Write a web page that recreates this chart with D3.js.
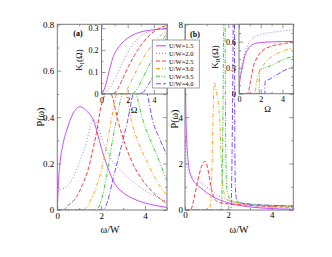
<!DOCTYPE html>
<html><head><meta charset="utf-8">
<script src="https://cdn.jsdelivr.net/npm/d3@7/dist/d3.min.js"></script>
<style>body{margin:0;background:#fff}svg{display:block}</style>
</head><body><svg id="c" width="332" height="257"></svg>
<script>
// ---------- data ----------
const uLabels = ["U/W=1.5","U/W=2.0","U/W=2.5","U/W=3.0","U/W=3.5","U/W=4.0"];
const seriesColors = ["#c44cff","#a57fd6","#ff3b3b","#ffa31a","#3ccc3c","#7a4dff"];
const seriesDash = ["", "1,2", "4,2", "4,2,1,2", "4,1.5,1,1.5,1,1.5", "5,2,5,2,1,2"];

// panel (a) main: P(omega) vs omega/W
const pa15 = [[0,0],[0.03,0.07],[0.06,0.13],[0.12,0.2],[0.25,0.28],[0.43,0.344],[0.72,0.416],[1.03,0.445],[1.3,0.43],[1.64,0.387],[2.08,0.244],[2.35,0.17],[2.61,0.115],[3.0,0.075],[3.5,0.047],[4.0,0.03],[4.5,0.019],[5.0,0.011]];
const pa20 = [[0,0],[0.02,0.07],[0.1,0.085],[0.43,0.1],[0.88,0.172],[1.1,0.23],[1.33,0.29],[1.5,0.36],[1.65,0.39],[1.85,0.36],[2.1,0.29],[2.39,0.229],[2.9,0.17],[3.44,0.122],[4.34,0.065],[5.0,0.036]];
const pa25 = [[0,0],[0.27,0],[0.5,0.02],[0.88,0.057],[1.15,0.11],[1.4,0.172],[1.6,0.25],[1.78,0.33],[2.0,0.45],[2.16,0.495],[2.35,0.52],[2.5,0.49],[2.76,0.387],[3.1,0.28],[3.44,0.2],[3.8,0.14],[4.19,0.093],[4.6,0.055],[5.0,0.028]];
const pa30 = [[0,0],[1.18,0],[1.5,0.04],[1.93,0.143],[2.24,0.272],[2.46,0.387],[2.7,0.5],[2.95,0.55],[3.15,0.5],[3.37,0.387],[3.7,0.29],[4.05,0.215],[4.5,0.13],[5.0,0.062]];
const pa35 = [[0,0],[1.78,0],[2.0,0.04],[2.24,0.143],[2.46,0.27],[2.69,0.387],[2.95,0.5],[3.3,0.57],[3.6,0.5],[3.9,0.387],[4.2,0.31],[4.5,0.244],[5.0,0.125]];
const pa40 = [[0,0],[2.08,0],[2.3,0.04],[2.53,0.13],[2.99,0.3],[3.21,0.387],[3.45,0.5],[3.8,0.58],[4.1,0.5],[4.34,0.387],[4.65,0.31],[5.0,0.235]];

// inset (a): K_I(Omega)
const ka15 = [[0,0],[0.2,0.02],[0.4,0.06],[0.65,0.12],[0.9,0.17],[1.2,0.205],[1.5,0.228],[2,0.255],[2.5,0.272],[3,0.283],[4,0.293],[5,0.298]];
const ka20 = [[0,0],[0.3,0.005],[0.6,0.025],[1.0,0.065],[1.5,0.13],[1.9,0.18],[2.4,0.225],[2.9,0.26],[3.5,0.282],[4.5,0.3],[5,0.305]];
const ka25 = [[0,0],[0.8,0],[1.0,0.005],[1.3,0.03],[1.7,0.08],[2.05,0.125],[2.5,0.175],[2.94,0.216],[3.5,0.258],[4,0.285],[4.5,0.302],[5,0.315]];
const ka30 = [[0,0],[1.6,0],[1.8,0.008],[2.2,0.05],[2.69,0.11],[3.2,0.165],[3.7,0.21],[4.2,0.248],[4.6,0.272],[5,0.29]];
const ka35 = [[0,0],[2.3,0],[2.56,0.01],[3.0,0.055],[3.45,0.11],[3.9,0.16],[4.4,0.215],[4.7,0.25],[5,0.277]];
const ka40 = [[0,0],[3.0,0],[3.2,0.008],[3.6,0.045],[3.95,0.08],[4.4,0.13],[5,0.19]];

// panel (b) main: P(omega) vs omega/W
const pb15 = [[0.005,9],[0.02,6],[0.04,4.2],[0.07,3.2],[0.1,2.6],[0.15,2.05],[0.23,1.6],[0.35,1.32],[0.54,1.1],[0.69,0.98],[1.0,0.75],[1.3,0.57],[1.6,0.44],[2.07,0.29],[2.5,0.2],[2.84,0.15],[3.5,0.09],[4.37,0.045],[5,0.03]];
const pb20 = [[0,0],[0.005,3.2],[0.04,2.2],[0.08,1.9],[0.2,1.6],[0.54,1.3],[1.0,1.0],[1.3,0.78],[1.62,0.57],[2.0,0.41],[2.39,0.3],[3.0,0.19],[3.62,0.13],[4.3,0.095],[5,0.075]];
const pb25 = [[0,0],[0.2,0],[0.3,0.08],[0.46,0.7],[0.6,1.3],[0.75,1.85],[0.93,2.1],[1.05,1.8],[1.16,1.2],[1.31,0.6],[1.5,0.35],[1.8,0.28],[2.2,0.25],[3,0.2],[4,0.15],[5,0.12]];
const pb30 = [[0,0],[1.12,0],[1.2,0.6],[1.25,2.0],[1.3,4.2],[1.35,5.5],[1.45,5.1],[1.55,4.5],[1.62,3.6],[1.67,2.2],[1.72,1.2],[1.85,0.6],[2.0,0.42],[2.5,0.3],[3,0.24],[4,0.18],[5,0.15]];
const pb35 = [[0,0],[1.68,0],[1.72,1.5],[1.76,5],[1.8,9],[1.84,9],[1.87,4],[1.9,1.5],[1.95,0.8],[2.1,0.45],[2.5,0.33],[3,0.26],[4,0.2],[5,0.17]];
const pb40 = [[0,0],[2.12,0],[2.16,1.5],[2.2,5],[2.24,9],[2.28,9],[2.3,3],[2.33,0.9],[2.4,0.4],[2.6,0.3],[3,0.25],[4,0.2],[5,0.18]];

// inset (b): K_R(Omega)
const kb15 = [[0,0],[0.02,0.08],[0.1,0.17],[0.25,0.27],[0.55,0.44],[0.8,0.51],[1.32,0.57],[2,0.59],[3,0.597],[5,0.602]];
const kb20 = [[0,0],[0.05,0.12],[0.12,0.2],[0.25,0.31],[0.55,0.48],[0.8,0.56],[1.0,0.6],[1.4,0.65],[1.94,0.68],[3.17,0.71],[5,0.735]];
const kb25 = [[0,0],[0.75,0],[0.86,0.02],[1.0,0.1],[1.15,0.2],[1.32,0.31],[1.6,0.4],[2.1,0.49],[2.8,0.54],[3.5,0.565],[4.2,0.58],[5,0.59]];
const kb30 = [[0,0],[1.45,0],[1.5,0.03],[1.6,0.12],[1.78,0.22],[2.1,0.3],[2.55,0.38],[3.2,0.44],[4,0.49],[5,0.525]];
const kb35 = [[0,0],[1.86,0],[1.88,0.27],[2.2,0.29],[2.86,0.32],[3.5,0.36],[4.2,0.4],[5,0.43]];
const kb40 = [[0,0],[2.38,0],[2.4,0.14],[2.86,0.17],[3.5,0.22],[4.2,0.27],[5,0.31]];

const xMajor = [0,2,4], xMinor = [1,3,5];
const paYMajor = [0,0.2,0.4,0.6,0.8], paYMinor = [0.1,0.3,0.5,0.7];
const pbYMajor = [0,2,4,6,8], pbYMinor = [1,3,5,7];
const pbYLabelled = [0,2,4,8];
const kaYMajor = [0,0.1,0.2,0.3], kaYMinor = [0.05,0.15,0.25];
const kbYMajor = [0,0.3,0.6], kbYMinor = [0.1,0.2,0.4,0.5,0.7];

// ---------- drawing ----------
const svg = d3.select("#c");
const FONT = "'Liberation Serif','Times New Roman',serif";
const FRAME = "#7a7a7a";
let clipId = 0;

function drawPanel(o) {
  const x = d3.scaleLinear().domain(o.xd).range([o.x0, o.x1]);
  const y = d3.scaleLinear().domain(o.yd).range([o.y1, o.y0]);
  const g = svg.append("g");
  if (o.fill) g.append("rect").attr("x", o.x0).attr("y", o.y0).attr("width", o.x1 - o.x0).attr("height", o.y1 - o.y0).attr("fill", "#fff");
  const id = "clip" + (clipId++);
  g.append("clipPath").attr("id", id).append("rect").attr("x", o.x0).attr("y", o.y0).attr("width", o.x1 - o.x0).attr("height", o.y1 - o.y0);
  const line = d3.line().x(d => x(d[0])).y(d => y(d[1])).curve(d3.curveMonotoneX);
  const cg = g.append("g").attr("clip-path", `url(#${id})`);
  o.series.forEach((s, i) => {
    cg.append("path").attr("d", line(s)).attr("fill", "none")
      .attr("stroke", seriesColors[i]).attr("stroke-width", 1.0)
      .attr("stroke-dasharray", seriesDash[i] || null);
  });
  function ax(gen, tr, vals, size, fmt) {
    const a = g.append("g").attr("transform", tr)
      .call(gen.tickValues(vals).tickSize(-size).tickPadding(o.pad).tickFormat(fmt || (() => "")));
    a.select(".domain").remove();
    a.selectAll("line").attr("stroke", FRAME).attr("stroke-width", 0.8);
    if (!fmt) a.selectAll("text").remove();
    else a.selectAll("text").attr("font-family", FONT).attr("font-size", o.fs).attr("fill", "#000");
    if (size === 0) a.selectAll("line").remove();
    return a;
  }
  ax(d3.axisBottom(x), `translate(0,${o.y1})`, xMajor, 4, o.fmt);
  ax(d3.axisBottom(x), `translate(0,${o.y1})`, xMinor, 2);
  ax(d3.axisTop(x), `translate(0,${o.y0})`, xMajor, 4);
  ax(d3.axisTop(x), `translate(0,${o.y0})`, xMinor, 2);
  ax(d3.axisLeft(y), `translate(${o.x0},0)`, o.yMajor, 4);
  ax(d3.axisLeft(y), `translate(${o.x0},0)`, o.yLabelled || o.yMajor, 0, o.yfmt);
  ax(d3.axisLeft(y), `translate(${o.x0},0)`, o.yMinor, 2);
  ax(d3.axisRight(y), `translate(${o.x1},0)`, o.yMajor, 4);
  ax(d3.axisRight(y), `translate(${o.x1},0)`, o.yMinor, 2);
  g.append("rect").attr("x", o.x0).attr("y", o.y0).attr("width", o.x1 - o.x0).attr("height", o.y1 - o.y0)
    .attr("fill", "none").attr("stroke", FRAME).attr("stroke-width", 1);
  return {x, y, g};
}

const fmtX = d3.format("d");
const fmtA = d => d === 0 ? "0" : d3.format(".1f")(d);

function label(txt, cx, cy, size, rot, sub) {
  const t = svg.append("text").attr("font-family", FONT).attr("font-size", size)
    .attr("text-anchor", "middle").attr("dominant-baseline", "central")
    .attr("transform", `translate(${cx},${cy})` + (rot ? " rotate(-90)" : ""));
  if (sub) {
    t.append("tspan").text(txt[0]);
    t.append("tspan").text(sub).attr("font-size", size * 0.7).attr("dy", size * 0.25);
    t.append("tspan").text(txt[1]).attr("dy", -size * 0.25);
  } else t.text(txt);
  return t;
}

// panel (a)
drawPanel({x0: 57.3, x1: 167, y0: 24.3, y1: 210, xd: [0,5], yd: [0,0.8],
  series: [pa15,pa20,pa25,pa30,pa35,pa40], yMajor: paYMajor, yMinor: paYMinor,
  fmt: fmtX, yfmt: fmtA, fs: 9, pad: 3});
drawPanel({x0: 101.5, x1: 167, y0: 24.3, y1: 94, xd: [0,5], yd: [0,0.318], fill: true,
  series: [ka15,ka20,ka25,ka30,ka35,ka40], yMajor: kaYMajor, yMinor: kaYMinor,
  fmt: fmtX, yfmt: fmtA, fs: 8, pad: 3});
// panel (b)
drawPanel({x0: 185, x1: 293.3, y0: 24.3, y1: 210, xd: [0,5], yd: [0,8],
  series: [pb15,pb20,pb25,pb30,pb35,pb40], yMajor: pbYMajor, yMinor: pbYMinor, yLabelled: pbYLabelled,
  fmt: fmtX, yfmt: fmtX, fs: 9, pad: 2});
drawPanel({x0: 239, x1: 293.3, y0: 24.3, y1: 93.7, xd: [0,5], yd: [0,0.8], fill: true,
  series: [kb15,kb20,kb25,kb30,kb35,kb40], yMajor: kbYMajor, yMinor: kbYMinor,
  fmt: fmtX, yfmt: fmtA, fs: 8, pad: 3});

// axis labels
label("P(ω)", 40, 117, 10, true);
label("P(ω)", 174, 119, 10, true);
label("ω/W", 110, 229, 10, false);
label("ω/W", 239, 229, 10, false);
label("Ω", 134, 110, 9, false);
label("Ω", 267.5, 108.5, 9, false);
label(["K","(Ω)"], 79, 60, 9, true, "I");
label(["K","(Ω)"], 215, 57, 9, true, "R");
label("(a)", 78, 33, 8, false).attr("font-weight", "bold");
label("(b)", 195, 34, 8, false).attr("font-weight", "bold");

// legend
const lg = svg.append("g");
lg.append("rect").attr("x", 152.3).attr("y", 40).attr("width", 47).attr("height", 48)
  .attr("fill", "#fff").attr("stroke", "#888").attr("stroke-width", 0.8);
uLabels.forEach((t, i) => {
  const yy = 45.8 + i * 7.6;
  lg.append("line").attr("x1", 156).attr("x2", 166).attr("y1", yy).attr("y2", yy)
    .attr("stroke", seriesColors[i]).attr("stroke-width", 1.1).attr("stroke-dasharray", seriesDash[i] || null);
  lg.append("text").attr("x", 169).attr("y", yy).attr("dominant-baseline", "central")
    .attr("font-family", FONT).attr("font-size", 6.5).text(t);
});
</script></body></html>
